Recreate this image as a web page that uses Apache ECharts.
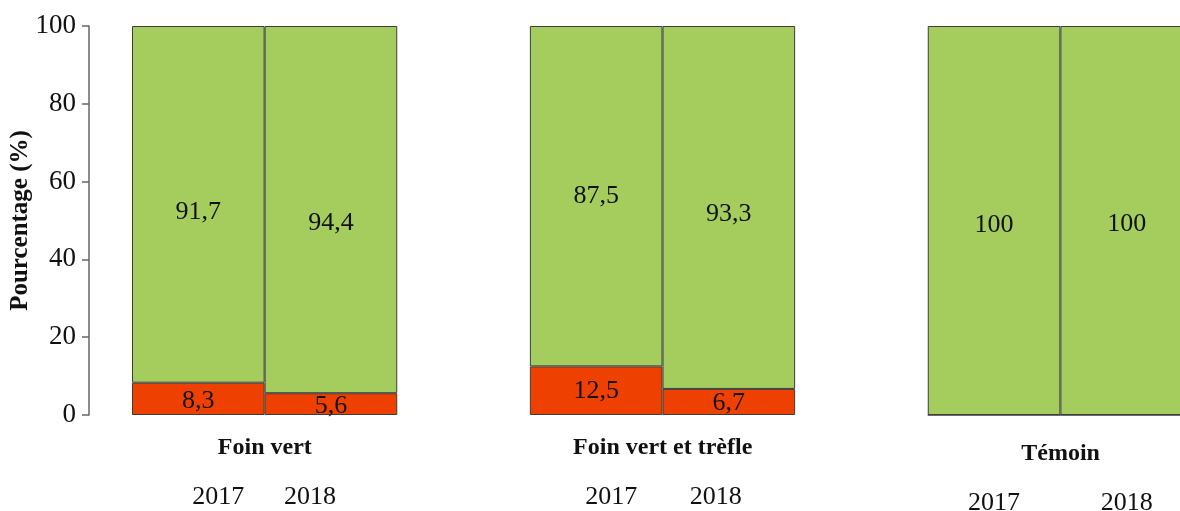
<!DOCTYPE html>
<html>
<head>
<meta charset="utf-8">
<script src="https://cdn.jsdelivr.net/npm/echarts@6/dist/echarts.min.js"></script>
<style>html,body{margin:0;padding:0;background:#fff}#c{width:1180px;height:511px}</style>
</head>
<body>
<div id="c"></div>
<script>
// Data
const groups = ['Foin vert', 'Foin vert et trèfle', 'Témoin'];
const years = ['2017', '2018'];
const redValues = [8.3, 5.6, 12.5, 6.7, 0, 0];
const greenValues = [91.7, 94.4, 87.5, 93.3, 100, 100];
const yTicks = [0, 20, 40, 60, 80, 100];

// Label vertical nudges (presentation only)
const greenLabelShift = [8, 14, 0, 7, 5, 4];
const redLabelShift = [2, 2, 0, 1, 0, 0];

// Build category slots: two bars per group, with an empty slot between groups
const cats = [], yearCats = [], groupCats = [], red = [], green = [];
groups.forEach((g, gi) => {
  years.forEach((y, yi) => {
    const i = gi * 2 + yi;
    cats.push(g + ' ' + y);
    red.push({ value: redValues[i], label: { offset: [0, redLabelShift[i]] } });
    green.push({ value: greenValues[i], label: { offset: [0, greenLabelShift[i]] } });
  });
  if (gi < groups.length - 1) { cats.push('gap' + gi); red.push(null); green.push(null); }
});

const yearPad = [[0,0,0,40],[0,42,0,0],null,[0,0,0,30],[0,26,0,0],null,[6,0,0,0],[6,0,0,0]];
cats.forEach((c, i) => {
  const isGap = c.startsWith('gap');
  const yi = isGap ? -1 : (c.endsWith('2017') ? 0 : 1);
  yearCats.push({ value: isGap ? '' : years[yi], textStyle: yearPad[i] ? { padding: yearPad[i] } : {} });
  const gname = groups.find(g => c === g + ' 2017');
  groupCats.push({ value: gname || '', textStyle: { padding: gname === 'Témoin' ? [6,0,0,133] : [0,0,0,133] } });
});

const fmt = p => (p.value > 0 ? String(p.value).replace('.', ',') : '');
const serif = '"Liberation Serif", "Times New Roman", serif';

const chart = echarts.init(document.getElementById('c'));
chart.setOption({
  animation: false,
  grid: { left: 132, right: -13, top: 26, bottom: 96, outerBoundsMode: 'none', containLabel: false },
  xAxis: [
    {
      type: 'category', data: yearCats, position: 'bottom',
      axisLine: { show: false }, axisTick: { show: false },
      axisLabel: { interval: 0, margin: 69, fontFamily: serif, fontSize: 26, color: '#111' }
    },
    {
      type: 'category', data: groupCats, position: 'bottom',
      axisLine: { show: false }, axisTick: { show: false },
      axisLabel: { interval: 0, margin: 21, fontFamily: serif, fontSize: 24, fontWeight: 'bold', color: '#111' }
    }
  ],
  yAxis: {
    type: 'value', min: yTicks[0], max: yTicks[yTicks.length - 1], interval: 20,
    offset: 43,
    name: 'Pourcentage (%)', nameLocation: 'middle', nameGap: 56, nameMoveOverlap: false,
    nameTextStyle: { fontFamily: serif, fontSize: 25, fontWeight: 'bold', color: '#111' },
    axisLine: { show: true, lineStyle: { color: '#666', width: 1.5 } },
    axisTick: { show: true, length: 7, lineStyle: { color: '#666', width: 1.5 } },
    axisLabel: { margin: 13, fontFamily: serif, fontSize: 27, color: '#111' },
    splitLine: { show: false }
  },
  series: [
    {
      type: 'bar', stack: 's', data: red, barCategoryGap: 0, xAxisIndex: 0,
      itemStyle: { color: '#ee4000', borderColor: '#3d3d3d', borderWidth: 1 },
      label: { show: true, position: 'inside', formatter: fmt, fontFamily: serif, fontSize: 26, color: '#111' }
    },
    {
      type: 'bar', stack: 's', data: green, barCategoryGap: 0, xAxisIndex: 0,
      itemStyle: { color: '#a4cd5e', borderColor: '#3d3d3d', borderWidth: 1 },
      label: { show: true, position: 'inside', formatter: fmt, fontFamily: serif, fontSize: 26, color: '#111' }
    }
  ]
});
</script>
</body>
</html>
